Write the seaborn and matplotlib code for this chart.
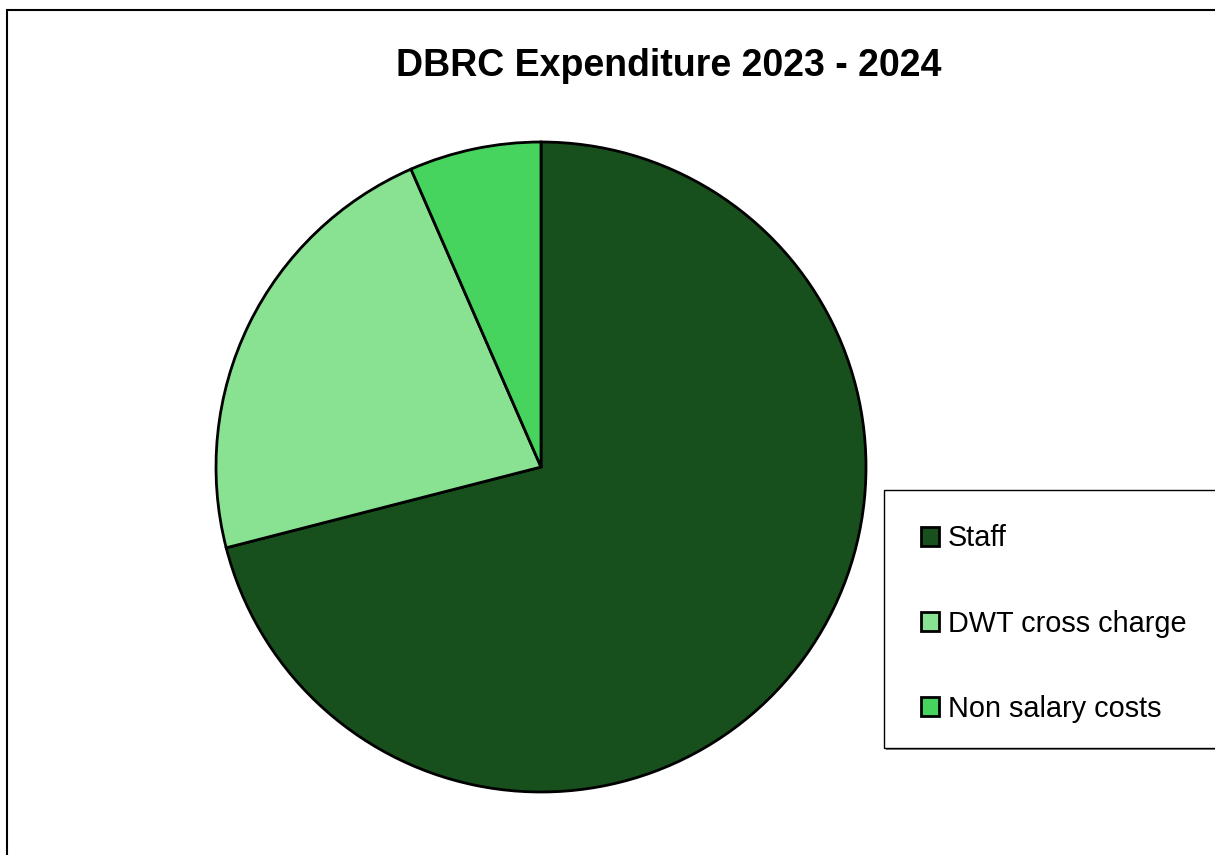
import matplotlib
matplotlib.use("Agg")
import matplotlib.pyplot as plt
from matplotlib.patches import Rectangle
import seaborn as sns

# Expenditure shares (percent)
categories = ["Staff", "DWT cross charge", "Non salary costs"]
shares = [71.0, 22.45, 6.55]
colors = ["#17501D", "#88E292", "#46D45E"]

sns.set_theme(style="white")
plt.rcParams["font.family"] = ["Liberation Sans", "DejaVu Sans"]
plt.rcParams["text.color"] = "black"

W, H = 1215, 855
fig = plt.figure(figsize=(W / 100, H / 100), dpi=100)
fig.patch.set_facecolor("white")

# outer chart border (runs off the right and bottom edge)
fig.add_artist(Rectangle((7 / W, -0.1), 1.2, (H - 10) / H + 0.1,
                         transform=fig.transFigure, fill=False,
                         edgecolor="black", linewidth=1.5))

# pie axes: centre (541, 467), radius ~325 px
ax = fig.add_axes([216 / W, 63 / H, 650 / W, 650 / H])
wedges, _ = ax.pie(shares, colors=colors, startangle=90, counterclock=False,
                   radius=1.0,
                   wedgeprops=dict(edgecolor="black", linewidth=2))
ax.set_xlim(-1.0, 1.0)
ax.set_ylim(-1.0, 1.0)
ax.set_aspect("equal")
ax.axis("off")

fig.text(669 / W, 1 - 66 / H, "DBRC Expenditure 2023 - 2024",
         ha="center", va="center", fontsize=27, fontweight="bold")

# legend box with shadow, cut off at the right edge
fig.add_artist(Rectangle((886 / W, 1 - 750 / H), 400 / W, 258 / H,
                         transform=fig.transFigure, facecolor="#808080",
                         edgecolor="none", zorder=3))
fig.add_artist(Rectangle((884 / W, 1 - 748 / H), 400 / W, 258 / H,
                         transform=fig.transFigure, facecolor="white",
                         edgecolor="black", linewidth=1, zorder=4))

leg = fig.legend(wedges, categories, loc="upper left",
                 bbox_to_anchor=(907 / W, 1 - 510 / H),
                 frameon=False, fontsize=20.8, handlelength=0.62,
                 handleheight=0.62, handletextpad=0.3, labelspacing=1.98,
                 borderpad=0)
leg.set_zorder(5)
for h in leg.legend_handles:
    h.set_linewidth(2)

fig.savefig("out.png", dpi=100)
